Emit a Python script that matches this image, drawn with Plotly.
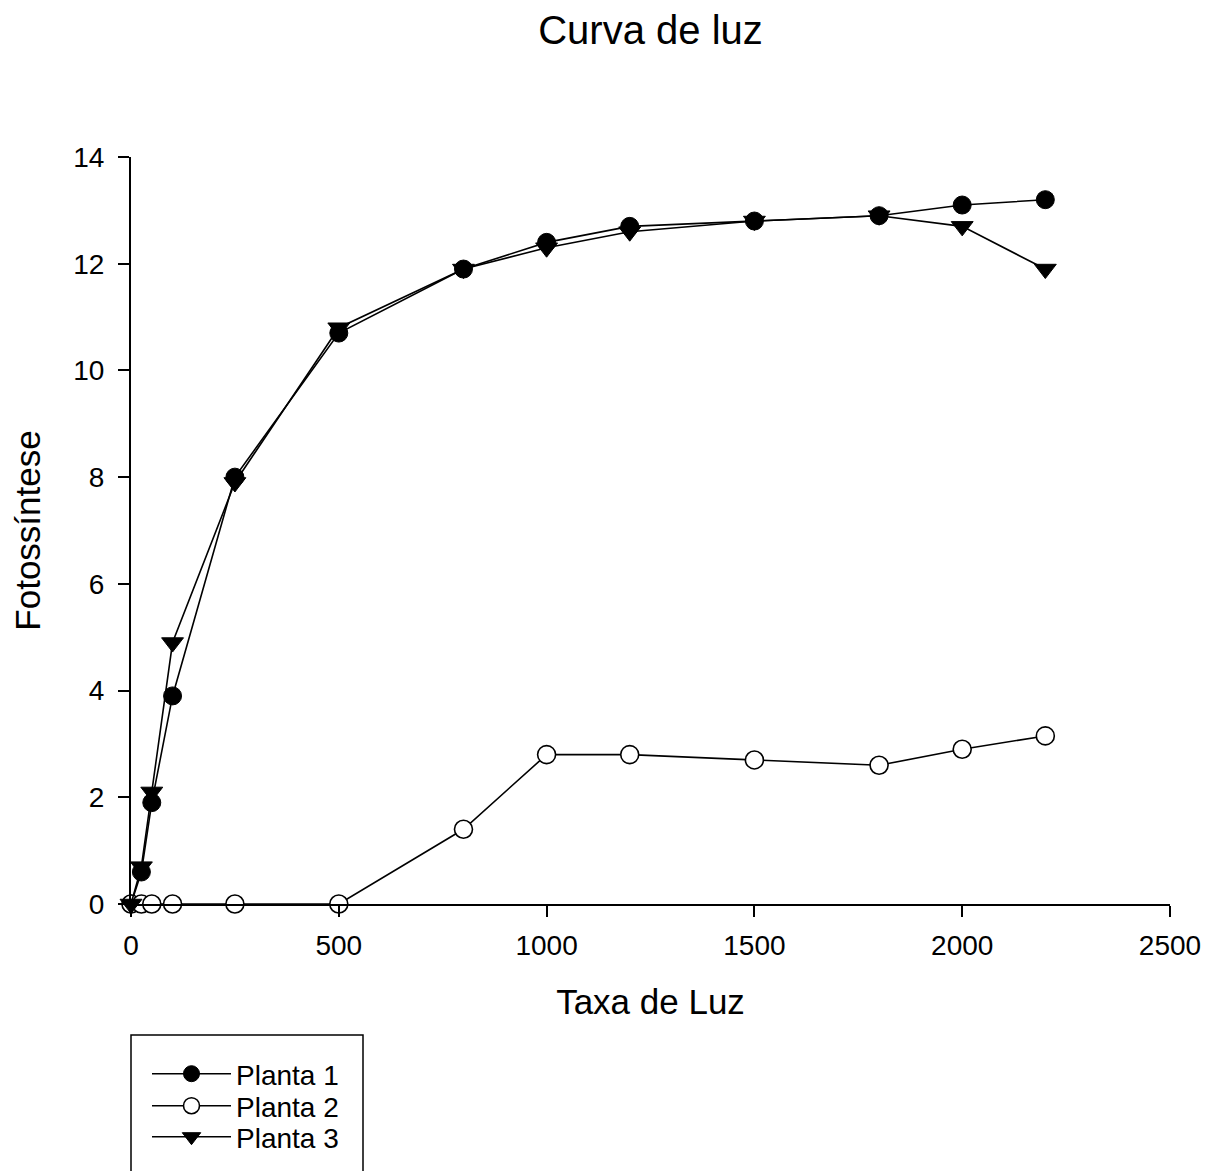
import plotly.graph_objects as go

taxa_luz = [0, 25, 50, 100, 250, 500, 800, 1000, 1200, 1500, 1800, 2000, 2200]
planta1 = [0, 0.6, 1.9, 3.9, 8.0, 10.7, 11.9, 12.4, 12.7, 12.8, 12.9, 13.1, 13.2]
planta2 = [0, 0, 0, 0, 0, 0, 1.4, 2.8, 2.8, 2.7, 2.6, 2.9, 3.15]
planta3 = [0, 0.7, 2.1, 4.9, 7.9, 10.8, 11.9, 12.3, 12.6, 12.8, 12.9, 12.7, 11.9]

FONT = "Arial, Liberation Sans, sans-serif"

# page offset (body margin) is 8px
L, T, PW, PH = 123, 149, 1039, 747
W, H = 1216, 1171


def py(page_y):
    # page pixel y -> paper y
    return ((T + 8 + PH) - page_y) / PH


def px(page_x):
    return (page_x - (L + 8)) / PW


fig = go.Figure()
fig.add_trace(go.Scatter(
    x=taxa_luz, y=planta1, name="Planta 1", mode="lines+markers", legend="legend",
    line=dict(color="black", width=1.6),
    marker=dict(symbol="circle", size=18, color="black", line=dict(color="black", width=1)),
    cliponaxis=False))
fig.add_trace(go.Scatter(
    x=taxa_luz, y=planta2, name="Planta 2", mode="lines+markers", legend="legend2",
    line=dict(color="black", width=1.6),
    marker=dict(symbol="circle", size=18, color="white", line=dict(color="black", width=1.6)),
    cliponaxis=False))
fig.add_trace(go.Scatter(
    x=taxa_luz, y=planta3, name="Planta 3", mode="lines+markers", legend="legend3",
    line=dict(color="black", width=1.6),
    marker=dict(symbol="triangle-down", size=19, color="black", line=dict(color="black", width=1)),
    cliponaxis=False))

leg_common = dict(xanchor="left", yanchor="middle", bgcolor="rgba(0,0,0,0)",
                  borderwidth=0, itemwidth=79, font=dict(size=28, family=FONT))

fig.update_layout(
    width=W, height=H,
    paper_bgcolor="white", plot_bgcolor="white",
    margin=dict(l=L, r=W - L - PW, t=T, b=H - T - PH, autoexpand=False),
    font=dict(family=FONT, size=28, color="black"),
    title=dict(text="Curva de luz", x=0.5, xref="paper", y=1 - 22 / H,
               yref="container", xanchor="center", yanchor="middle",
               font=dict(size=40)),
    showlegend=True,
    legend=dict(x=px(147), y=py(1074), **leg_common),
    legend2=dict(x=px(147), y=py(1106), **leg_common),
    legend3=dict(x=px(147), y=py(1137), **leg_common),
)

fig.update_xaxes(range=[0, 2500], tickvals=[0, 500, 1000, 1500, 2000, 2500],
                 showline=True, linecolor="black", linewidth=2, ticks="outside",
                 ticklen=11, tickwidth=1.5, tickcolor="black", showgrid=False, zeroline=False,
                 ticklabelstandoff=4, automargin=False,
                 title=dict(text="Taxa de Luz", font=dict(size=35), standoff=30),
                 tickfont=dict(size=28))
fig.update_yaxes(range=[0, 14], tickvals=[0, 2, 4, 6, 8, 10, 12, 14],
                 showline=True, linecolor="black", linewidth=2, ticks="outside",
                 ticklen=11, tickwidth=1.5, tickcolor="black", showgrid=False, zeroline=False,
                 ticklabelstandoff=8, automargin=False,
                 title=dict(text="Fotossíntese", font=dict(size=35), standoff=38),
                 tickfont=dict(size=28))

# legend frame (extends past the bottom edge as in the reference)
fig.add_shape(type="rect", xref="paper", yref="paper",
              x0=px(131), x1=px(363), y0=py(1200), y1=py(1035),
              line=dict(color="black", width=1.5), fillcolor="rgba(0,0,0,0)", layer="above")

fig.write_html("out.html")
